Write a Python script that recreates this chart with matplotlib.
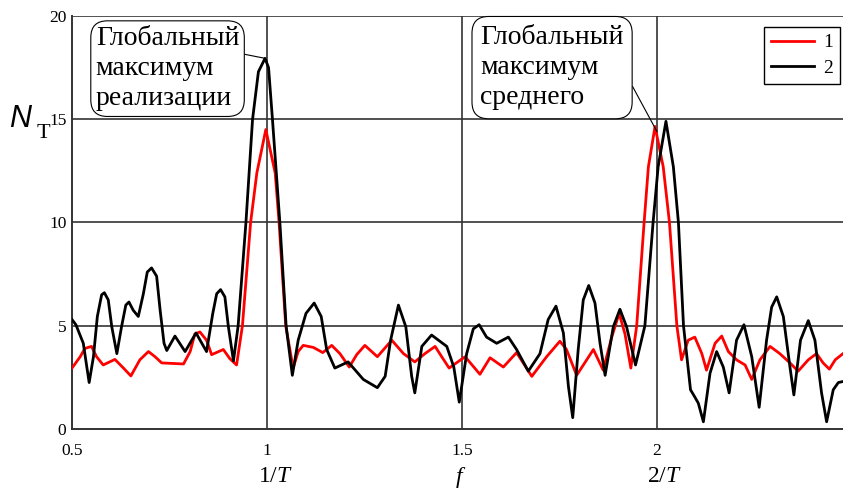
import matplotlib
matplotlib.use("Agg")
import matplotlib.pyplot as plt

# ---- data ----
x_black = [0.500, 0.510, 0.529, 0.538, 0.544, 0.555, 0.565, 0.576, 0.583, 0.593,
           0.602, 0.615, 0.627, 0.638, 0.646, 0.657, 0.670, 0.683, 0.693, 0.704,
           0.717, 0.726, 0.736, 0.743, 0.764, 0.790, 0.818, 0.845, 0.861, 0.871,
           0.881, 0.892, 0.901, 0.914, 0.926, 0.946, 0.963, 0.978, 0.995, 1.004,
           1.014, 1.033, 1.049, 1.065, 1.080, 1.100, 1.121, 1.139, 1.153, 1.174,
           1.208, 1.247, 1.283, 1.303, 1.317, 1.337, 1.356, 1.371, 1.379, 1.397,
           1.422, 1.461, 1.479, 1.493, 1.512, 1.529, 1.544, 1.563, 1.589, 1.619,
           1.640, 1.670, 1.700, 1.721, 1.741, 1.760, 1.773, 1.784, 1.798, 1.811,
           1.825, 1.841, 1.854, 1.867, 1.888, 1.905, 1.922, 1.945, 1.969, 1.990,
           2.003, 2.023, 2.042, 2.055, 2.068, 2.086, 2.097, 2.106, 2.119, 2.136,
           2.153, 2.170, 2.185, 2.204, 2.223, 2.243, 2.262, 2.281, 2.294, 2.307,
           2.324, 2.341, 2.351, 2.368, 2.388, 2.405, 2.422, 2.435, 2.452, 2.465,
           2.477]
y_black = [5.3, 5.05, 4.15, 3.0, 2.25, 3.5, 5.45, 6.5, 6.6, 6.25,
           4.95, 3.65, 4.95, 6.0, 6.15, 5.75, 5.45, 6.55, 7.6, 7.8,
           7.4, 5.75, 4.15, 3.8, 4.5, 3.75, 4.65, 3.75, 5.6, 6.55,
           6.75, 6.4, 4.95, 3.3, 5.0, 10.0, 15.0, 17.3, 17.95, 17.5,
           15.0, 10.0, 5.0, 2.6, 4.3, 5.6, 6.1, 5.45, 3.85, 2.95,
           3.25, 2.4, 2.0, 2.55, 4.3, 6.0, 4.95, 2.55, 1.75, 4.0,
           4.55, 4.0, 3.0, 1.3, 3.65, 4.85, 5.05, 4.45, 4.15, 4.45,
           3.85, 2.8, 3.65, 5.3, 5.95, 4.65, 2.05, 0.55, 3.85, 6.25,
           6.95, 6.1, 4.15, 2.6, 4.95, 5.8, 4.95, 3.1, 5.0, 10.0,
           12.7, 14.9, 12.7, 10.0, 5.0, 1.9, 1.55, 1.25, 0.35, 2.7,
           3.75, 3.0, 1.75, 4.3, 5.05, 3.5, 1.05, 4.3, 5.9, 6.4,
           5.45, 3.0, 1.65, 4.3, 5.25, 4.3, 1.75, 0.35, 1.9, 2.25,
           2.3]

x_red = [0.500, 0.521, 0.533, 0.550, 0.563, 0.580, 0.610, 0.632, 0.651, 0.674,
         0.696, 0.713, 0.730, 0.786, 0.803, 0.815, 0.828, 0.845, 0.858, 0.888,
         0.905, 0.922, 0.937, 0.958, 0.974, 0.997, 1.021, 1.031, 1.048, 1.067,
         1.080, 1.093, 1.119, 1.143, 1.166, 1.187, 1.211, 1.230, 1.251, 1.283,
         1.320, 1.350, 1.379, 1.405, 1.431, 1.448, 1.467, 1.508, 1.546, 1.572,
         1.606, 1.640, 1.679, 1.717, 1.751, 1.768, 1.794, 1.837, 1.862, 1.884,
         1.903, 1.918, 1.933, 1.948, 1.967, 1.978, 1.995, 2.016, 2.032, 2.051,
         2.063, 2.080, 2.097, 2.115, 2.127, 2.149, 2.166, 2.183, 2.204, 2.226,
         2.243, 2.264, 2.290, 2.315, 2.341, 2.362, 2.388, 2.409, 2.426, 2.442,
         2.457, 2.477]
y_red = [2.95, 3.5, 3.9, 4.0, 3.5, 3.1, 3.37, 2.95, 2.57, 3.35,
         3.75, 3.5, 3.2, 3.15, 3.75, 4.6, 4.7, 4.3, 3.6, 3.85,
         3.4, 3.1, 5.0, 10.0, 12.4, 14.5, 12.4, 10.0, 5.0, 2.95,
         3.75, 4.05, 3.95, 3.7, 4.05, 3.65, 3.0, 3.6, 4.05, 3.5,
         4.3, 3.65, 3.25, 3.65, 4.0, 3.5, 2.95, 3.5, 2.65, 3.45,
         3.0, 3.7, 2.55, 3.5, 4.25, 3.85, 2.6, 3.85, 2.85, 4.45,
         5.6, 4.6, 2.95, 5.0, 10.0, 12.7, 14.65, 12.7, 10.0, 5.0,
         3.35, 4.3, 4.45, 3.65, 2.85, 4.15, 4.5, 3.75, 3.35, 3.1,
         2.4, 3.35, 4.0, 3.65, 3.2, 2.8, 3.35, 3.65, 3.2, 2.9,
         3.35, 3.65]

x_ticks = [0.5, 1, 1.5, 2]
x_tick_labels = ["0.5", "1", "1.5", "2"]
y_ticks = [0, 5, 10, 15, 20]
series_labels = ["1", "2"]
note_real = "Глобальный\nмаксимум\nреализации"
note_mean = "Глобальный\nмаксимум\nсреднего"

# ---- style ----
plt.rcParams['font.family'] = ['Liberation Serif', 'DejaVu Serif']
plt.rcParams['mathtext.fontset'] = 'custom'
plt.rcParams['mathtext.rm'] = 'Liberation Serif'
plt.rcParams['mathtext.it'] = 'Liberation Serif:italic'

W, H = 843, 488
fig = plt.figure(figsize=(W / 100, H / 100), dpi=100)
ax = fig.add_axes([72 / W, 1 - 429 / H, 1 - 72 / W, (429 - 16) / H])

ax.set_xlim(0.5, 2.477)
ax.set_ylim(0, 20)

for xv in [1, 1.5, 2]:
    ax.axvline(xv, color='#333333', lw=1.2, zorder=1)
for yv in [5, 10, 15, 20]:
    ax.axhline(yv, color='#333333', lw=1.2, zorder=1)

ax.plot(x_red, y_red, color='#ff0000', lw=2.0, label=series_labels[0], zorder=3)
ax.plot(x_black, y_black, color='black', lw=2.0, label=series_labels[1], zorder=4)

for s in ['top', 'right']:
    ax.spines[s].set_visible(False)
for s in ['left', 'bottom']:
    ax.spines[s].set_color('#333333')
    ax.spines[s].set_linewidth(1.4)

ax.set_xticks(x_ticks)
ax.set_xticklabels(x_tick_labels)
ax.set_yticks(y_ticks)
ax.tick_params(length=0, labelsize=12.5)
ax.tick_params(axis='x', pad=10)
ax.tick_params(axis='y', pad=4)

# annotations
box_kw = dict(boxstyle='round,pad=0.18,rounding_size=0.6', fc='white',
              ec='black', lw=0.8)
ax.annotate(note_real, xy=(0.995, 17.95), xytext=(0.745, 17.45),
            ha='center', va='center', multialignment='left',
            fontsize=20, linespacing=1.28, bbox=box_kw,
            arrowprops=dict(arrowstyle='-', color='black', lw=0.8,
                            shrinkA=0, shrinkB=0, relpos=(1.0, 0.68)),
            zorder=6)
ax.annotate(note_mean, xy=(2.0, 14.4), xytext=(1.731, 17.5),
            ha='center', va='center', multialignment='left',
            fontsize=20, linespacing=1.28,
            bbox=dict(boxstyle='round,pad=0.3,rounding_size=0.6', fc='white',
                      ec='black', lw=0.8),
            arrowprops=dict(arrowstyle='-', color='black', lw=0.8,
                            shrinkA=0, shrinkB=0, relpos=(0.99, 0.5)),
            zorder=6)

# legend
leg = ax.legend(loc='upper right', bbox_to_anchor=(840 / W, 1 - 27 / H),
                bbox_transform=fig.transFigure, borderaxespad=0,
                fancybox=False, edgecolor='black', framealpha=1,
                fontsize=14, handlelength=2.2, handletextpad=0.5,
                borderpad=0.35, labelspacing=0.42)
leg.get_frame().set_linewidth(1.0)
leg.set_zorder(7)

# axis labels
fig.text(9 / W, 1 - 127 / H, "N", fontsize=22, style='italic',
         family=['Liberation Sans', 'DejaVu Sans'], va='baseline', ha='left')
fig.text(37 / W, 1 - 138 / H, "T", fontsize=16, va='baseline', ha='left')
for xc, s in [(275, r"1/$T$"), (461, r"$f$"), (664, r"2/$T$")]:
    fig.text(xc / W, 1 - 477 / H, s, fontsize=17, ha='center', va='center')

fig.savefig("out.png", dpi=100)
